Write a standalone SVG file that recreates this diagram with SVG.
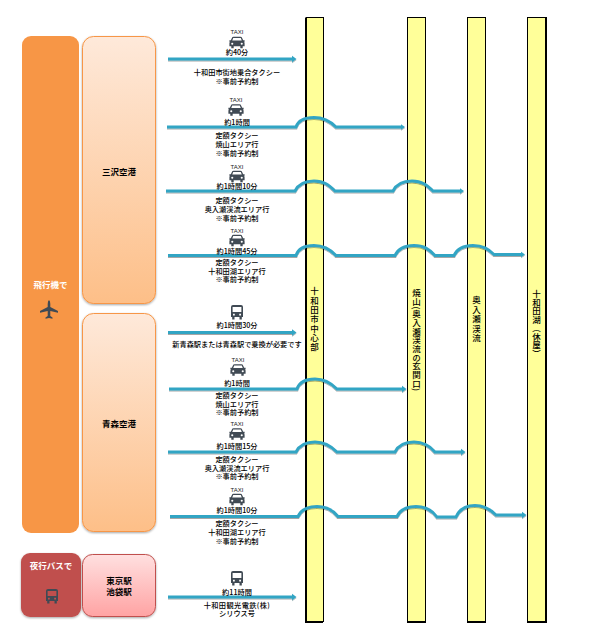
<svg xmlns="http://www.w3.org/2000/svg" xmlns:xlink="http://www.w3.org/1999/xlink" width="595" height="642" viewBox="0 0 595 642">
<style>
text{font-family:"Noto Sans CJK JP","Noto Sans CJK SC",sans-serif;fill:#000}
.l{font-size:7.2px;font-weight:500;text-anchor:middle;dominant-baseline:central}
.h{font-size:8.5px;font-weight:700;text-anchor:middle;dominant-baseline:central}
.w{fill:#fff}
.v{font-size:8.5px;font-weight:500;writing-mode:vertical-rl;dominant-baseline:central}
.t{font-family:"Liberation Sans",sans-serif;font-size:6px;text-anchor:middle;dominant-baseline:central;fill:#222}
.col{fill:#ffff99;stroke:#000;stroke-width:1}
.a{fill:none;stroke:#33a5c4;stroke-width:3;marker-end:url(#ah);filter:url(#sh)}
.ic{fill:#404a54}
</style>
<defs>
<linearGradient id="go" x1="0" y1="0" x2="0" y2="1"><stop offset="0" stop-color="#fee9da"/><stop offset="1" stop-color="#fdbf88"/></linearGradient>
<linearGradient id="gr" x1="0" y1="0" x2="0" y2="1"><stop offset="0" stop-color="#ffe0e0"/><stop offset="1" stop-color="#ffa3a3"/></linearGradient>
<filter id="sh" filterUnits="userSpaceOnUse" x="0" y="0" width="595" height="642"><feDropShadow dx="0" dy="1" stdDeviation="0.6" flood-color="#000" flood-opacity="0.35"/></filter>
<filter id="bs" x="-10%" y="-5%" width="120%" height="110%"><feDropShadow dx="0" dy="1" stdDeviation="0.8" flood-color="#000" flood-opacity="0.35"/></filter>
<marker id="ah" markerUnits="userSpaceOnUse" markerWidth="6" markerHeight="8" refX="1" refY="4" orient="auto"><path d="M0 0.8L4.500 4L0 7.200Z" fill="#33a5c4"/></marker>
<g id="taxi">
<path class="ic" d="M-5.500 -4.500Q-5 -6 -3.500 -6H3.500Q5 -6 5.500 -4.500L6.500 -2.500H8V-0.800H7.500Q8 0 8 1V4H6V6H3.500V4H-3.500V6H-6V4H-8V1Q-8 0 -7.500 -0.800H-8V-2.500H-6.500ZM-4 -4.800L-5 -2H5L4 -4.800Z" fill-rule="evenodd"/>
<circle cx="-5" cy="1.300" r="1.100" fill="#fff"/><circle cx="5" cy="1.300" r="1.100" fill="#fff"/>
</g>
<g id="bus">
<path class="ic" d="M-4 -7.500H4Q6 -7.500 6 -5.500V4.500H4.800V7H2.500V4.500H-2.500V7H-4.800V4.500H-6V-5.500Q-6 -7.500 -4 -7.500ZM-4.400 -5.500V-0.500H4.400V-5.500ZM-4 1.200V3H-2.200V1.200ZM2.200 1.200V3H4V1.200Z" fill-rule="evenodd"/>
</g>
</defs>

<g id="node-airplane">
<rect x="22" y="36" width="57" height="497" rx="9" fill="#f79646"/>
<text class="h w" x="50.500" y="284">飛行機で</text>
<path class="ic" d="M49 300Q50.300 301 50.300 304V307L58 311V312.800L50.300 311V316L52.500 317.600V318.800L49 318L45.500 318.800V317.600L47.700 316V311L40 312.800V311L47.700 307V304Q47.700 301 49 300Z"/>
</g>
<g id="node-misawa">
<rect x="82.500" y="36.500" width="73" height="267" rx="11" fill="url(#go)" stroke="#f79646" filter="url(#bs)"/>
<text class="h" x="119" y="170.500">三沢空港</text>
</g>
<g id="node-aomori">
<rect x="82.500" y="313.500" width="73" height="218" rx="11" fill="url(#go)" stroke="#f79646" filter="url(#bs)"/>
<text class="h" x="119" y="423">青森空港</text>
</g>
<g id="node-nightbus">
<rect x="21" y="553" width="60" height="64" rx="9" fill="#c0504d" filter="url(#bs)"/>
<text class="h w" x="51" y="565">夜行バスで</text>
<use xlink:href="#bus" href="#bus" transform="translate(52 596.500)"/>
</g>
<g id="node-tokyo">
<rect x="82.500" y="554.500" width="73" height="62" rx="10" fill="url(#gr)" stroke="#c0504d" filter="url(#bs)"/>
<text class="h" x="119" y="580">東京駅</text>
<text class="h" x="119" y="591">池袋駅</text>
</g>

<g id="node-towada-city">
<rect class="col" x="306" y="17.500" width="17.500" height="604"/>
<path d="M306 18V622H323" fill="none" stroke="#000" stroke-width="2"/>
<text class="v" x="314.500" y="287" style="letter-spacing:.8px">十和田市中心部</text>
</g>
<g id="node-yakeyama">
<rect class="col" x="407.500" y="17.500" width="18" height="604"/>
<path d="M407 622H426" stroke="#000" stroke-width="2"/>
<text class="v" x="416.500" y="289" style="letter-spacing:.2px">焼山(奥入瀬渓流の玄関口)</text>
</g>
<g id="node-oirase">
<rect class="col" x="467.500" y="17.500" width="18" height="604"/>
<path d="M467 622H486" stroke="#000" stroke-width="2"/>
<text class="v" x="476.500" y="296" style="letter-spacing:.9px">奥入瀬渓流</text>
</g>
<g id="node-lake">
<rect class="col" x="527.500" y="17.500" width="18" height="604"/>
<path d="M527 622H546V17" fill="none" stroke="#000" stroke-width="2"/>
<text class="v" x="536.500" y="290">十和田湖（休屋）</text>
</g>

<g id="connectors">
<path class="a" d="M168 59H293"/>
<path class="a" d="M167 127H296C298 121 304 117.500 314 117.500C324 117.500 330 121 336 127H401.500"/>
<path class="a" d="M166 191H295C298 185 304 181 314 181C324 181 329 185 335 191H393C396 185 402 181 412 181C422 181 427 185 433 191H460.500"/>
<path class="a" d="M168 255.500H296C298 249 304 245.500 314 245.500C324 245.500 330 249 336 255.500H395C398 249 404 245.500 414 245.500C424 245.500 429 249 435 255.500H454C457 249 463 245.500 473 245.500C483 245.500 488 249 494 254.500H521.500"/>
<path class="a" d="M168 332.500H293"/>
<path class="a" d="M169 389H297C299 383 305 379 315 379C325 379 331 383 337 389H403"/>
<path class="a" d="M168 452H296C299 446 305 442 315 442C325 442 331 446 337 452H395C398 446 404 442 414 442C424 442 430 446 435 452H462"/>
<path class="a" d="M170 516.500H298C301 510 307 506.500 317 506.500C327 506.500 333 510 338 516.500H397C400 510 406 506.500 416 506.500C426 506.500 432 510 437 517H456C459 510 465 505.500 475 505.500C485 505.500 491 510 496 515H523"/>
<path class="a" d="M168 597H293"/>
</g>

<g id="icons">
<text class="t" x="237" y="32">TAXI</text><use xlink:href="#taxi" href="#taxi" transform="translate(237 42.500) scale(.95)"/>
<text class="t" x="236" y="100">TAXI</text><use xlink:href="#taxi" href="#taxi" transform="translate(236 110) scale(.95)"/>
<text class="t" x="237" y="167">TAXI</text><use xlink:href="#taxi" href="#taxi" transform="translate(237 176.500) scale(.95)"/>
<text class="t" x="237" y="231">TAXI</text><use xlink:href="#taxi" href="#taxi" transform="translate(237 240.500) scale(.95)"/>
<use xlink:href="#bus" href="#bus" transform="translate(237 312.500)"/>
<text class="t" x="238" y="360">TAXI</text><use xlink:href="#taxi" href="#taxi" transform="translate(238 370) scale(.95)"/>
<text class="t" x="237" y="424">TAXI</text><use xlink:href="#taxi" href="#taxi" transform="translate(237 434) scale(.95)"/>
<text class="t" x="237" y="490">TAXI</text><use xlink:href="#taxi" href="#taxi" transform="translate(237 499.500) scale(.95)"/>
<use xlink:href="#bus" href="#bus" transform="translate(237 578.500)"/>
</g>

<g id="labels">
<text class="l" x="237" y="52">約40分</text>
<text class="l" x="237" y="71.500">十和田市街地乗合タクシー</text>
<text class="l" x="237" y="80.500">※事前予約制</text>
<text class="l" x="237" y="122">約1時間</text>
<text class="l" x="237" y="135">定額タクシー</text>
<text class="l" x="237" y="144">焼山エリア行</text>
<text class="l" x="237" y="152.500">※事前予約制</text>
<text class="l" x="237" y="186">約1時間10分</text>
<text class="l" x="237" y="200">定額タクシー</text>
<text class="l" x="237" y="208.500">奥入瀬渓流エリア行</text>
<text class="l" x="237" y="217.500">※事前予約制</text>
<text class="l" x="237" y="250.500">約1時間45分</text>
<text class="l" x="237" y="262">定額タクシー</text>
<text class="l" x="237" y="270.500">十和田湖エリア行</text>
<text class="l" x="237" y="279">※事前予約制</text>
<text class="l" x="237" y="325">約1時間30分</text>
<text class="l" x="237" y="343.500">新青森駅または青森駅で乗換が必要です</text>
<text class="l" x="237" y="383">約1時間</text>
<text class="l" x="237" y="395">定額タクシー</text>
<text class="l" x="237" y="403.500">焼山エリア行</text>
<text class="l" x="237" y="412">※事前予約制</text>
<text class="l" x="237" y="446">約1時間15分</text>
<text class="l" x="237" y="459">定額タクシー</text>
<text class="l" x="237" y="467.500">奥入瀬渓流エリア行</text>
<text class="l" x="237" y="476">※事前予約制</text>
<text class="l" x="237" y="510">約1時間10分</text>
<text class="l" x="237" y="523">定額タクシー</text>
<text class="l" x="237" y="532">十和田湖エリア行</text>
<text class="l" x="237" y="540.500">※事前予約制</text>
<text class="l" x="237" y="591.500">約11時間</text>
<text class="l" x="237" y="604.500" style="letter-spacing:.4px">十和田観光電鉄(株)</text>
<text class="l" x="237" y="613">シリウス号</text>
</g>
</svg>
